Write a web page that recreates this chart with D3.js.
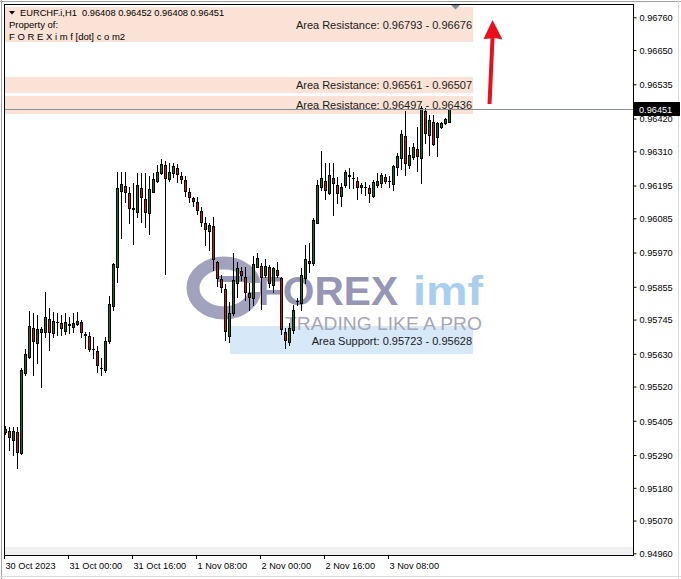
<!DOCTYPE html>
<html><head><meta charset="utf-8">
<script src="https://cdn.jsdelivr.net/npm/d3@7"></script>
<style>body{margin:0;background:#fff;overflow:hidden}svg{display:block}</style>
</head><body><svg id="c" width="681" height="579"></svg>
<script>
// ---- data (EURCHF.i, H1, from 30 Oct 2023 08:00) ----
const opens = [0.95367,0.95372,0.95341,0.95367,0.95296,0.95567,0.95620,0.95717,0.95667,0.95704,
0.95703,0.95747,0.95699,0.95736,0.95734,0.95708,0.95729,0.95719,0.95729,0.95738,
0.95695,0.95690,0.95646,0.95639,0.95583,0.95576,0.95673,0.95792,0.95923,0.96178,
0.96194,0.96171,0.96118,0.96105,0.96188,0.96149,0.96102,0.96174,0.96210,0.96236,
0.96264,0.96216,0.96236,0.96253,0.96227,0.96214,0.96172,0.96152,0.96141,0.96111,
0.96070,0.96043,0.96059,0.95939,0.95880,0.95847,0.95690,0.95766,0.95869,0.95908,
0.95887,0.95835,0.95816,0.95923,0.95925,0.95895,0.95923,0.95861,0.95912,0.95884,
0.95704,0.95671,0.95710,0.95807,0.95802,0.95884,0.95942,0.95934,0.96070,0.96189,
0.96210,0.96171,0.96219,0.96197,0.96160,0.96197,0.96229,0.96222,0.96210,0.96197,
0.96190,0.96188,0.96160,0.96197,0.96203,0.96223,0.96211,0.96200,0.96256,0.96287,
0.96361,0.96264,0.96290,0.96317,0.96287,0.96446,0.96365,0.96409,0.96357,0.96391,
0.96404,0.96408];
const highs = [0.95386,0.95385,0.95385,0.95385,0.95582,0.95646,0.95774,0.95767,0.95760,0.95721,
0.95838,0.95784,0.95771,0.95767,0.95760,0.95767,0.95754,0.95767,0.95770,0.95744,
0.95704,0.95702,0.95685,0.95656,0.95615,0.95688,0.95824,0.95936,0.96240,0.96240,
0.96240,0.96191,0.96203,0.96236,0.96236,0.96236,0.96227,0.96238,0.96264,0.96283,
0.96278,0.96272,0.96272,0.96267,0.96242,0.96227,0.96186,0.96158,0.96156,0.96124,
0.96090,0.96070,0.96088,0.95943,0.95893,0.95864,0.95805,0.95968,0.95939,0.95923,
0.95923,0.95867,0.95958,0.95968,0.95934,0.95947,0.95928,0.95923,0.95939,0.95889,
0.95716,0.95732,0.95794,0.95816,0.95917,0.95995,0.96001,0.96085,0.96214,0.96311,
0.96270,0.96272,0.96270,0.96225,0.96203,0.96247,0.96255,0.96242,0.96223,0.96205,
0.96208,0.96197,0.96214,0.96236,0.96238,0.96234,0.96227,0.96264,0.96303,0.96382,
0.96446,0.96326,0.96339,0.96393,0.96462,0.96454,0.96432,0.96432,0.96409,0.96409,
0.96421,0.96452];
const lows = [0.95361,0.95307,0.95290,0.95246,0.95295,0.95559,0.95616,0.95559,0.95600,0.95518,
0.95688,0.95643,0.95685,0.95693,0.95693,0.95697,0.95700,0.95703,0.95727,0.95685,
0.95649,0.95640,0.95615,0.95570,0.95559,0.95570,0.95665,0.95777,0.95872,0.96020,
0.96139,0.96068,0.95998,0.96088,0.96074,0.96055,0.96031,0.96172,0.96208,0.96235,
0.95897,0.96211,0.96225,0.96208,0.96205,0.96160,0.96141,0.96126,0.96099,0.96060,
0.95995,0.95979,0.95912,0.95859,0.95838,0.95676,0.95671,0.95760,0.95822,0.95878,
0.95811,0.95777,0.95794,0.95921,0.95780,0.95889,0.95853,0.95839,0.95889,0.95697,
0.95649,0.95660,0.95699,0.95794,0.95777,0.95867,0.95906,0.95928,0.96068,0.96180,
0.96149,0.96167,0.96096,0.96137,0.96126,0.96189,0.96186,0.96186,0.96149,0.96171,
0.96163,0.96141,0.96156,0.96189,0.96189,0.96205,0.96189,0.96180,0.96231,0.96250,
0.96231,0.96253,0.96283,0.96245,0.96205,0.96339,0.96298,0.96331,0.96294,0.96388,
0.96402,0.96408];
const closes = [0.95379,0.95350,0.95371,0.95301,0.95576,0.95629,0.95723,0.95674,0.95713,0.95713,
0.95754,0.95704,0.95741,0.95737,0.95717,0.95738,0.95728,0.95735,0.95741,0.95702,
0.95694,0.95646,0.95645,0.95592,0.95582,0.95673,0.95797,0.95932,0.96186,0.96200,
0.96174,0.96119,0.96116,0.96197,0.96156,0.96107,0.96183,0.96216,0.96242,0.96266,
0.96219,0.96242,0.96261,0.96234,0.96217,0.96178,0.96158,0.96144,0.96113,0.96074,
0.96048,0.96063,0.95947,0.95885,0.95855,0.95705,0.95768,0.95878,0.95917,0.95895,
0.95839,0.95822,0.95931,0.95951,0.95887,0.95925,0.95867,0.95917,0.95895,0.95712,
0.95676,0.95716,0.95777,0.95808,0.95895,0.95947,0.95934,0.96079,0.96197,0.96219,
0.96180,0.96231,0.96203,0.96169,0.96189,0.96242,0.96228,0.96221,0.96191,0.96189,
0.96189,0.96169,0.96208,0.96211,0.96231,0.96211,0.96210,0.96261,0.96294,0.96368,
0.96272,0.96298,0.96326,0.96294,0.96454,0.96373,0.96415,0.96335,0.96404,0.96406,
0.96417,0.96451];
const timeTickBars = [0,16,32,48,64,80,96];
const timeTickLabels = ["30 Oct 2023","31 Oct 00:00","31 Oct 16:00","1 Nov 08:00","2 Nov 00:00","2 Nov 16:00","3 Nov 08:00"];
const priceTicks = [0.96760,0.96650,0.96535,0.96420,0.96310,0.96195,0.96085,0.95970,0.95855,0.95745,0.95630,0.95520,0.95405,0.95290,0.95180,0.95070,0.94960];
const zoneKinds = ["Resistance","Resistance","Resistance","Support"];
const zoneTops = [0.96793,0.96561,0.96497,0.95723];
const zoneBottoms = [0.96676,0.96507,0.96436,0.95628];
const zoneStartBars = [0,0,0,56];
const symbolName = "EURCHF.i,H1";
const lastPrice = 0.96451;
// ---------------------------------------------

const svg = d3.select("#c");
const PL = 4, PR = 633, PT = 4, PB = 555;
const x = d3.scaleLinear().domain([0, 1]).range([5.5, 9.5]);
const y = d3.scaleLinear().domain([0.94960, 0.96760]).range([553.3, 17.3]);
const fmt = d3.format(".5f");
const FONT = "'Liberation Sans', Arial, sans-serif";

// outer window border
svg.append("rect").attr("x",0).attr("y",0).attr("width",681).attr("height",579).attr("fill","#fff");
svg.append("line").attr("x1",1.5).attr("x2",1.5).attr("y1",0).attr("y2",579).attr("stroke","#a0a0a0").attr("stroke-width",1);
svg.append("line").attr("x1",0).attr("x2",681).attr("y1",1.5).attr("y2",1.5).attr("stroke","#a0a0a0");
svg.append("line").attr("x1",678.5).attr("x2",678.5).attr("y1",0).attr("y2",579).attr("stroke","#dcdcdc");
svg.append("line").attr("x1",0).attr("x2",681).attr("y1",576.5).attr("y2",576.5).attr("stroke","#dcdcdc");

// bottom gray band
svg.append("rect").attr("x",PL).attr("y",547).attr("width",PR-PL).attr("height",PB-547).attr("fill","#f0f0f0");

// zones
const zg = svg.append("g");
zoneTops.forEach((t,k)=>{
  const y0 = Math.round(y(t)), y1 = Math.round(y(zoneBottoms[k]));
  const xs = k===3 ? Math.round(x(zoneStartBars[k])) : PL+1;
  zg.append("rect").attr("x",xs).attr("y",y0).attr("width",473-xs).attr("height",y1-y0)
    .attr("fill", zoneKinds[k]==="Support" ? "#d7e8f8" : "#fbe2d6");
});

// watermark
const wm = svg.append("g");
wm.append("ellipse").attr("cx",224).attr("cy",288).attr("rx",31).attr("ry",25)
  .attr("fill","none").attr("stroke","#9898b8").attr("stroke-width",13).attr("opacity",0.9);
wm.append("rect").attr("x",212).attr("y",283).attr("width",48).attr("height",9).attr("fill","#fff");
wm.append("rect").attr("x",218).attr("y",276).attr("width",40).attr("height",6).attr("fill","#9898b8");
wm.append("text").attr("x",258).attr("y",305).attr("font-family",FONT).attr("font-weight","bold")
  .attr("font-size",40).attr("fill","#9696b6").attr("textLength",140).attr("lengthAdjust","spacingAndGlyphs").text("FOREX");
wm.append("text").attr("x",413).attr("y",305).attr("font-family",FONT).attr("font-weight","bold")
  .attr("font-size",40).attr("fill","#a9cff0").attr("textLength",70).attr("lengthAdjust","spacingAndGlyphs").text("imf");
wm.append("text").attr("x",285).attr("y",330).attr("font-family",FONT)
  .attr("font-size",19).attr("fill","#a6a6b4").attr("textLength",197).attr("lengthAdjust","spacingAndGlyphs").text("TRADING LIKE A PRO");

// zone texts
zoneTops.forEach((t,k)=>{
  const mid = (y(t)+y(zoneBottoms[k]))/2;
  zg.append("text").attr("x",472).attr("y",mid+4.5).attr("text-anchor","end")
    .attr("font-family",FONT).attr("font-size",11).attr("fill","#1a1a1a")
    .text(`Area ${zoneKinds[k]}: ${fmt(t)} - ${fmt(zoneBottoms[k])}`);
});

// header
svg.append("path").attr("d","M9,11 L15,11 L12,14.5 Z").attr("fill","#000");
svg.append("text").attr("x",20).attr("y",15.5).attr("font-family",FONT).attr("font-size",9.3).attr("fill","#000")
  .style("white-space","pre")
  .text(`${symbolName}  ${fmt(opens[111])} ${fmt(highs[111])} ${fmt(lows[111])} ${fmt(closes[111])}`);
svg.append("text").attr("x",9).attr("y",28).attr("font-family",FONT).attr("font-size",9.5).attr("fill","#000").text("Property of:");
svg.append("text").attr("x",9).attr("y",40).attr("font-family",FONT).attr("font-size",9.5).attr("fill","#000").text("F O R E X i m f [dot] c o m2");

// chart shift marker
svg.append("path").attr("d","M451,5 L460,5 L455.5,9.5 Z").attr("fill","#7d8a98");

// candles
const cg = svg.append("g");
opens.forEach((o,i)=>{
  const c = closes[i], cx = x(i);
  const yh = Math.round(y(highs[i])), yl = Math.round(y(lows[i]));
  cg.append("line").attr("x1",cx).attr("x2",cx).attr("y1",yh).attr("y2",yl+1).attr("stroke","#000").attr("stroke-width",1);
  const top = Math.round(y(Math.max(o,c))), bot = Math.round(y(Math.min(o,c)));
  if (bot - top < 1) {
    cg.append("line").attr("x1",cx-1.5).attr("x2",cx+1.5).attr("y1",top+0.5).attr("y2",top+0.5).attr("stroke","#000");
  } else {
    cg.append("rect").attr("x",cx-1).attr("y",top+0.5).attr("width",2).attr("height",bot-top)
      .attr("fill", c>=o ? "#008000" : "#e01010").attr("stroke","#000").attr("stroke-width",1);
  }
});

// last price line
const yp = Math.round(y(lastPrice))+0.5;
svg.append("line").attr("x1",PL).attr("x2",PR).attr("y1",yp).attr("y2",yp).attr("stroke","#8a8f96");

// frame
svg.append("rect").attr("x",PL+0.5).attr("y",PT+0.5).attr("width",PR-PL).attr("height",PB-PT)
  .attr("fill","none").attr("stroke","#000");

// price axis
const ya = d3.axisRight(y).tickValues(priceTicks).tickFormat(fmt).tickSize(3).tickPadding(3);
const yag = svg.append("g").attr("transform",`translate(${PR+0.5},0)`).call(ya);
yag.select(".domain").remove();
yag.selectAll("line").attr("stroke","#000");
yag.selectAll("text").attr("font-family",FONT).attr("font-size",9.2).attr("fill","#000").attr("dy","0.35em");

// price tag
svg.append("rect").attr("x",634).attr("y",yp-7.5).attr("width",46).attr("height",14).attr("fill","#000");
svg.append("text").attr("x",639).attr("y",yp+3.5).attr("font-family",FONT).attr("font-size",9.2).attr("fill","#fff").text(fmt(lastPrice));

// time axis
const tg = svg.append("g");
timeTickBars.forEach((b,k)=>{
  const tx = Math.round(x(b)) - 1.5;
  tg.append("line").attr("x1",tx).attr("x2",tx).attr("y1",PB).attr("y2",PB+4).attr("stroke","#000");
  tg.append("text").attr("x",tx+1).attr("y",569).attr("font-family",FONT).attr("font-size",9.2).attr("fill","#000").text(timeTickLabels[k]);
});

// red arrow
svg.append("path").attr("d","M487.5,104 L491.5,104 L494.5,38 L502.5,39.5 L492.5,20 L483.5,39 L490.5,38.5 Z").attr("fill","#e8101c");
</script></body></html>
